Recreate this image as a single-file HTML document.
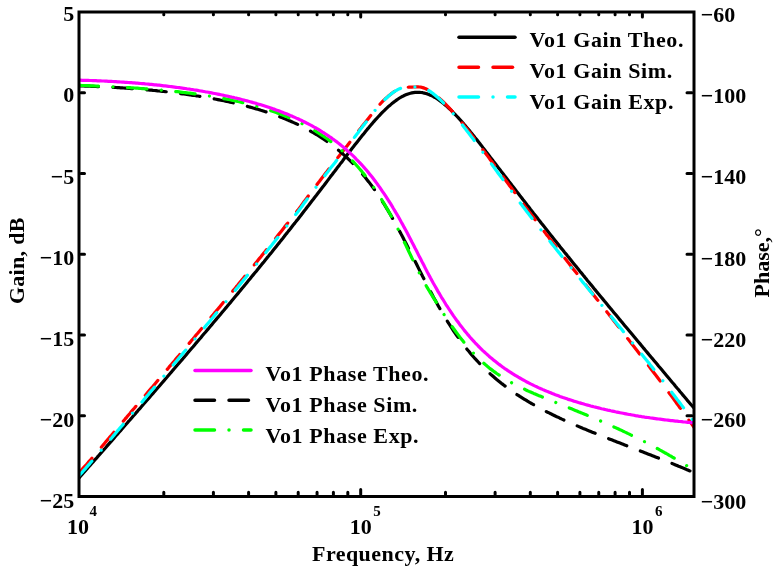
<!DOCTYPE html><html><head><meta charset="utf-8"><style>html,body{margin:0;padding:0;background:#fff;overflow:hidden}svg{display:block;will-change:transform}</style></head><body><svg width="776" height="570" viewBox="0 0 776 570">
<rect width="776" height="570" fill="#fff"/>
<defs><clipPath id="c"><rect x="79" y="12" width="615" height="484.5"/></clipPath></defs>
<g clip-path="url(#c)" fill="none" stroke-width="3.20" stroke-linejoin="round">
<path d="M79.0,477.9 L80.5,476.2 L82.1,474.4 L83.6,472.7 L85.2,470.9 L86.7,469.2 L88.2,467.4 L89.8,465.7 L91.3,463.9 L92.9,462.2 L94.4,460.4 L96.0,458.7 L97.5,456.9 L99.0,455.2 L100.6,453.4 L102.1,451.7 L103.7,449.9 L105.2,448.2 L106.7,446.4 L108.3,444.6 L109.8,442.9 L111.4,441.1 L112.9,439.4 L114.5,437.6 L116.0,435.8 L117.5,434.1 L119.1,432.3 L120.6,430.6 L122.2,428.8 L123.7,427.0 L125.2,425.3 L126.8,423.5 L128.3,421.7 L129.9,420.0 L131.4,418.2 L132.9,416.4 L134.5,414.7 L136.0,412.9 L137.6,411.1 L139.1,409.3 L140.7,407.6 L142.2,405.8 L143.7,404.0 L145.3,402.2 L146.8,400.5 L148.4,398.7 L149.9,396.9 L151.4,395.1 L153.0,393.4 L154.5,391.6 L156.1,389.8 L157.6,388.0 L159.2,386.2 L160.7,384.4 L162.2,382.7 L163.8,380.9 L165.3,379.1 L166.9,377.3 L168.4,375.5 L169.9,373.7 L171.5,371.9 L173.0,370.1 L174.6,368.3 L176.1,366.5 L177.6,364.7 L179.2,362.9 L180.7,361.2 L182.3,359.4 L183.8,357.6 L185.4,355.8 L186.9,353.9 L188.4,352.1 L190.0,350.3 L191.5,348.5 L193.1,346.7 L194.6,344.9 L196.1,343.1 L197.7,341.3 L199.2,339.5 L200.8,337.7 L202.3,335.8 L203.8,334.0 L205.4,332.2 L206.9,330.4 L208.5,328.6 L210.0,326.7 L211.6,324.9 L213.1,323.1 L214.6,321.3 L216.2,319.4 L217.7,317.6 L219.3,315.8 L220.8,313.9 L222.3,312.1 L223.9,310.3 L225.4,308.4 L227.0,306.6 L228.5,304.7 L230.1,302.9 L231.6,301.0 L233.1,299.2 L234.7,297.3 L236.2,295.5 L237.8,293.6 L239.3,291.8 L240.8,289.9 L242.4,288.0 L243.9,286.2 L245.5,284.3 L247.0,282.4 L248.5,280.6 L250.1,278.7 L251.6,276.8 L253.2,274.9 L254.7,273.1 L256.3,271.2 L257.8,269.3 L259.3,267.4 L260.9,265.5 L262.4,263.6 L264.0,261.7 L265.5,259.8 L267.0,257.9 L268.6,256.0 L270.1,254.1 L271.7,252.2 L273.2,250.3 L274.8,248.3 L276.3,246.4 L277.8,244.5 L279.4,242.6 L280.9,240.6 L282.5,238.7 L284.0,236.8 L285.5,234.8 L287.1,232.9 L288.6,230.9 L290.2,229.0 L291.7,227.0 L293.2,225.0 L294.8,223.1 L296.3,221.1 L297.9,219.2 L299.4,217.2 L301.0,215.2 L302.5,213.2 L304.0,211.2 L305.6,209.3 L307.1,207.3 L308.7,205.3 L310.2,203.3 L311.7,201.3 L313.3,199.3 L314.8,197.3 L316.4,195.3 L317.9,193.3 L319.5,191.2 L321.0,189.2 L322.5,187.2 L324.1,185.2 L325.6,183.2 L327.2,181.1 L328.7,179.1 L330.2,177.1 L331.8,175.1 L333.3,173.0 L334.9,171.0 L336.4,169.0 L337.9,166.9 L339.5,164.9 L341.0,162.9 L342.6,160.9 L344.1,158.8 L345.7,156.8 L347.2,154.8 L348.7,152.8 L350.3,150.8 L351.8,148.8 L353.4,146.8 L354.9,144.8 L356.4,142.9 L358.0,140.9 L359.5,139.0 L361.1,137.0 L362.6,135.1 L364.2,133.2 L365.7,131.3 L367.2,129.4 L368.8,127.6 L370.3,125.7 L371.9,123.9 L373.4,122.1 L374.9,120.4 L376.5,118.7 L378.0,117.0 L379.6,115.3 L381.1,113.7 L382.6,112.1 L384.2,110.6 L385.7,109.1 L387.3,107.6 L388.8,106.2 L390.4,104.9 L391.9,103.6 L393.4,102.4 L395.0,101.2 L396.5,100.1 L398.1,99.0 L399.6,98.0 L401.1,97.1 L402.7,96.3 L404.2,95.5 L405.8,94.8 L407.3,94.2 L408.8,93.7 L410.4,93.3 L411.9,92.9 L413.5,92.6 L415.0,92.4 L416.6,92.3 L418.1,92.3 L419.6,92.4 L421.2,92.5 L422.7,92.7 L424.3,93.1 L425.8,93.5 L427.3,93.9 L428.9,94.5 L430.4,95.2 L432.0,95.9 L433.5,96.7 L435.1,97.5 L436.6,98.5 L438.1,99.5 L439.7,100.6 L441.2,101.7 L442.8,102.9 L444.3,104.2 L445.8,105.5 L447.4,106.8 L448.9,108.3 L450.5,109.7 L452.0,111.2 L453.5,112.8 L455.1,114.4 L456.6,116.0 L458.2,117.7 L459.7,119.3 L461.3,121.1 L462.8,122.8 L464.3,124.6 L465.9,126.4 L467.4,128.2 L469.0,130.1 L470.5,132.0 L472.0,133.8 L473.6,135.7 L475.1,137.7 L476.7,139.6 L478.2,141.5 L479.8,143.5 L481.3,145.4 L482.8,147.4 L484.4,149.4 L485.9,151.4 L487.5,153.4 L489.0,155.4 L490.5,157.4 L492.1,159.4 L493.6,161.4 L495.2,163.4 L496.7,165.4 L498.2,167.4 L499.8,169.4 L501.3,171.4 L502.9,173.4 L504.4,175.5 L506.0,177.5 L507.5,179.5 L509.0,181.5 L510.6,183.5 L512.1,185.5 L513.7,187.5 L515.2,189.5 L516.7,191.5 L518.3,193.5 L519.8,195.5 L521.4,197.5 L522.9,199.5 L524.5,201.5 L526.0,203.5 L527.5,205.5 L529.1,207.4 L530.6,209.4 L532.2,211.4 L533.7,213.4 L535.2,215.3 L536.8,217.3 L538.3,219.3 L539.9,221.2 L541.4,223.2 L542.9,225.1 L544.5,227.1 L546.0,229.0 L547.6,231.0 L549.1,232.9 L550.7,234.9 L552.2,236.8 L553.7,238.7 L555.3,240.7 L556.8,242.6 L558.4,244.5 L559.9,246.5 L561.4,248.4 L563.0,250.3 L564.5,252.2 L566.1,254.1 L567.6,256.0 L569.2,257.9 L570.7,259.8 L572.2,261.7 L573.8,263.7 L575.3,265.5 L576.9,267.4 L578.4,269.3 L579.9,271.2 L581.5,273.1 L583.0,275.0 L584.6,276.9 L586.1,278.8 L587.6,280.7 L589.2,282.5 L590.7,284.4 L592.3,286.3 L593.8,288.2 L595.4,290.1 L596.9,291.9 L598.4,293.8 L600.0,295.7 L601.5,297.5 L603.1,299.4 L604.6,301.3 L606.1,303.1 L607.7,305.0 L609.2,306.9 L610.8,308.7 L612.3,310.6 L613.8,312.4 L615.4,314.3 L616.9,316.1 L618.5,318.0 L620.0,319.9 L621.6,321.7 L623.1,323.6 L624.6,325.4 L626.2,327.3 L627.7,329.1 L629.3,331.0 L630.8,332.8 L632.3,334.6 L633.9,336.5 L635.4,338.3 L637.0,340.2 L638.5,342.0 L640.1,343.9 L641.6,345.7 L643.1,347.6 L644.7,349.4 L646.2,351.2 L647.8,353.1 L649.3,354.9 L650.8,356.8 L652.4,358.6 L653.9,360.4 L655.5,362.3 L657.0,364.1 L658.5,366.0 L660.1,367.8 L661.6,369.6 L663.2,371.5 L664.7,373.3 L666.3,375.2 L667.8,377.0 L669.3,378.8 L670.9,380.7 L672.4,382.5 L674.0,384.3 L675.5,386.2 L677.0,388.0 L678.6,389.8 L680.1,391.7 L681.7,393.5 L683.2,395.4 L684.8,397.2 L686.3,399.0 L687.8,400.9 L689.4,402.7 L690.9,404.5 L692.5,406.3 L694.0,408.1" stroke="#000"/>
<path d="M79.0,472.8 L80.5,471.0 L82.1,469.3 L83.6,467.6 L85.2,465.9 L86.7,464.2 L88.2,462.4 L89.8,460.7 L91.3,458.9 L92.9,457.1 L94.4,455.3 L96.0,453.5 L97.5,451.6 L99.0,449.8 L100.6,448.0 L102.1,446.2 L103.7,444.4 L105.2,442.6 L106.7,440.7 L108.3,438.9 L109.8,437.1 L111.4,435.3 L112.9,433.5 L114.5,431.6 L116.0,429.8 L117.5,428.0 L119.1,426.2 L120.6,424.4 L122.2,422.6 L123.7,420.7 L125.2,418.9 L126.8,417.1 L128.3,415.3 L129.9,413.5 L131.4,411.6 L132.9,409.8 L134.5,408.0 L136.0,406.2 L137.6,404.4 L139.1,402.6 L140.7,400.7 L142.2,398.9 L143.7,397.1 L145.3,395.3 L146.8,393.5 L148.4,391.6 L149.9,389.8 L151.4,388.0 L153.0,386.2 L154.5,384.4 L156.1,382.5 L157.6,380.7 L159.2,378.9 L160.7,377.1 L162.2,375.3 L163.8,373.4 L165.3,371.6 L166.9,369.8 L168.4,368.0 L169.9,366.1 L171.5,364.3 L173.0,362.5 L174.6,360.7 L176.1,358.8 L177.6,357.0 L179.2,355.2 L180.7,353.3 L182.3,351.5 L183.8,349.7 L185.4,347.9 L186.9,346.0 L188.4,344.2 L190.0,342.4 L191.5,340.5 L193.1,338.7 L194.6,336.9 L196.1,335.0 L197.7,333.2 L199.2,331.4 L200.8,329.5 L202.3,327.7 L203.8,325.8 L205.4,324.0 L206.9,322.1 L208.5,320.3 L210.0,318.5 L211.6,316.6 L213.1,314.8 L214.6,312.9 L216.2,311.1 L217.7,309.2 L219.3,307.4 L220.8,305.5 L222.3,303.7 L223.9,301.8 L225.4,299.9 L227.0,298.1 L228.5,296.2 L230.1,294.4 L231.6,292.5 L233.1,290.6 L234.7,288.8 L236.2,286.9 L237.8,285.0 L239.3,283.1 L240.8,281.3 L242.4,279.4 L243.9,277.5 L245.5,275.6 L247.0,273.7 L248.5,271.9 L250.1,270.0 L251.6,268.1 L253.2,266.2 L254.7,264.3 L256.3,262.4 L257.8,260.5 L259.3,258.6 L260.9,256.7 L262.4,254.8 L264.0,252.9 L265.5,251.0 L267.0,249.0 L268.6,247.1 L270.1,245.2 L271.7,243.3 L273.2,241.4 L274.8,239.4 L276.3,237.5 L277.8,235.6 L279.4,233.6 L280.9,231.7 L282.5,229.7 L284.0,227.8 L285.5,225.8 L287.1,223.9 L288.6,221.9 L290.2,219.9 L291.7,218.0 L293.2,216.0 L294.8,214.0 L296.3,212.1 L297.9,210.1 L299.4,208.1 L301.0,206.0 L302.5,203.9 L304.0,201.7 L305.6,199.6 L307.1,197.6 L308.7,195.5 L310.2,193.4 L311.7,191.4 L313.3,189.3 L314.8,187.3 L316.4,185.3 L317.9,183.2 L319.5,181.2 L321.0,179.2 L322.5,177.2 L324.1,175.3 L325.6,173.3 L327.2,171.3 L328.7,169.3 L330.2,167.3 L331.8,165.4 L333.3,163.4 L334.9,161.4 L336.4,159.5 L337.9,157.5 L339.5,155.5 L341.0,153.6 L342.6,151.6 L344.1,149.6 L345.7,147.6 L347.2,145.7 L348.7,143.7 L350.3,141.7 L351.8,139.7 L353.4,137.7 L354.9,135.8 L356.4,133.8 L358.0,131.8 L359.5,129.8 L361.1,127.8 L362.6,125.8 L364.2,123.9 L365.7,121.9 L367.2,119.9 L368.8,117.9 L370.3,116.0 L371.9,114.0 L373.4,112.1 L374.9,110.2 L376.5,108.3 L378.0,106.5 L379.6,104.7 L381.1,103.0 L382.6,101.4 L384.2,99.9 L385.7,98.5 L387.3,97.1 L388.8,95.7 L390.4,94.5 L391.9,93.3 L393.4,92.2 L395.0,91.2 L396.5,90.3 L398.1,89.5 L399.6,88.8 L401.1,88.2 L402.7,87.8 L404.2,87.6 L405.8,87.4 L407.3,87.3 L408.8,87.2 L410.4,87.2 L411.9,87.1 L413.5,87.0 L415.0,87.0 L416.6,86.9 L418.1,86.9 L419.6,87.0 L421.2,87.2 L422.7,87.6 L424.3,88.1 L425.8,88.8 L427.3,89.5 L428.9,90.4 L430.4,91.4 L432.0,92.5 L433.5,93.6 L435.1,94.8 L436.6,96.0 L438.1,97.3 L439.7,98.6 L441.2,100.0 L442.8,101.5 L444.3,103.0 L445.8,104.5 L447.4,106.1 L448.9,107.7 L450.5,109.4 L452.0,111.1 L453.5,112.8 L455.1,114.6 L456.6,116.4 L458.2,118.2 L459.7,120.1 L461.3,121.9 L462.8,123.8 L464.3,125.7 L465.9,127.7 L467.4,129.6 L469.0,131.6 L470.5,133.5 L472.0,135.5 L473.6,137.5 L475.1,139.5 L476.7,141.5 L478.2,143.6 L479.8,145.6 L481.3,147.6 L482.8,149.7 L484.4,151.7 L485.9,153.8 L487.5,155.9 L489.0,157.9 L490.5,160.0 L492.1,162.0 L493.6,164.1 L495.2,166.2 L496.7,168.3 L498.2,170.3 L499.8,172.4 L501.3,174.5 L502.9,176.6 L504.4,178.6 L506.0,180.7 L507.5,182.8 L509.0,184.9 L510.6,186.9 L512.1,189.0 L513.7,191.1 L515.2,193.2 L516.7,195.3 L518.3,197.3 L519.8,199.4 L521.4,201.5 L522.9,203.5 L524.5,205.6 L526.0,207.6 L527.5,209.6 L529.1,211.7 L530.6,213.7 L532.2,215.7 L533.7,217.8 L535.2,219.8 L536.8,221.8 L538.3,223.8 L539.9,225.9 L541.4,227.9 L542.9,229.9 L544.5,231.9 L546.0,233.9 L547.6,235.9 L549.1,237.9 L550.7,239.9 L552.2,241.9 L553.7,243.9 L555.3,245.9 L556.8,247.9 L558.4,249.9 L559.9,251.9 L561.4,253.8 L563.0,255.8 L564.5,257.8 L566.1,259.8 L567.6,261.8 L569.2,263.7 L570.7,265.7 L572.2,267.7 L573.8,269.7 L575.3,271.6 L576.9,273.6 L578.4,275.6 L579.9,277.5 L581.5,279.5 L583.0,281.5 L584.6,283.4 L586.1,285.4 L587.6,287.4 L589.2,289.3 L590.7,291.3 L592.3,293.3 L593.8,295.2 L595.4,297.2 L596.9,299.2 L598.4,301.1 L600.0,303.1 L601.5,305.0 L603.1,307.0 L604.6,309.0 L606.1,310.9 L607.7,312.9 L609.2,314.9 L610.8,316.8 L612.3,318.8 L613.8,320.8 L615.4,322.8 L616.9,324.7 L618.5,326.7 L620.0,328.7 L621.6,330.7 L623.1,332.6 L624.6,334.6 L626.2,336.6 L627.7,338.6 L629.3,340.6 L630.8,342.6 L632.3,344.6 L633.9,346.6 L635.4,348.5 L637.0,350.5 L638.5,352.5 L640.1,354.6 L641.6,356.6 L643.1,358.6 L644.7,360.6 L646.2,362.6 L647.8,364.6 L649.3,366.6 L650.8,368.7 L652.4,370.7 L653.9,372.7 L655.5,374.8 L657.0,376.8 L658.5,378.8 L660.1,380.9 L661.6,383.0 L663.2,385.0 L664.7,387.1 L666.3,389.1 L667.8,391.2 L669.3,393.3 L670.9,395.4 L672.4,397.4 L674.0,399.5 L675.5,401.6 L677.0,403.7 L678.6,405.8 L680.1,408.0 L681.7,410.1 L683.2,412.2 L684.8,414.3 L686.3,416.5 L687.8,418.6 L689.4,420.8 L690.9,422.9 L692.5,425.1 L694.0,427.2" stroke="#f00" stroke-dasharray="19.5 14.5" stroke-linecap="round"/>
<path d="M79.0,475.9 L80.5,474.1 L82.1,472.4 L83.6,470.6 L85.2,468.9 L86.7,467.1 L88.2,465.4 L89.8,463.6 L91.3,461.8 L92.9,460.0 L94.4,458.2 L96.0,456.4 L97.5,454.5 L99.0,452.7 L100.6,450.9 L102.1,449.1 L103.7,447.3 L105.2,445.5 L106.7,443.6 L108.3,441.8 L109.8,440.0 L111.4,438.2 L112.9,436.4 L114.5,434.6 L116.0,432.7 L117.5,430.9 L119.1,429.1 L120.6,427.3 L122.2,425.5 L123.7,423.6 L125.2,421.8 L126.8,420.0 L128.3,418.2 L129.9,416.4 L131.4,414.5 L132.9,412.7 L134.5,410.9 L136.0,409.1 L137.6,407.2 L139.1,405.4 L140.7,403.6 L142.2,401.8 L143.7,399.9 L145.3,398.1 L146.8,396.3 L148.4,394.5 L149.9,392.6 L151.4,390.8 L153.0,389.0 L154.5,387.2 L156.1,385.3 L157.6,383.5 L159.2,381.7 L160.7,379.8 L162.2,378.0 L163.8,376.2 L165.3,374.3 L166.9,372.5 L168.4,370.7 L169.9,368.8 L171.5,367.0 L173.0,365.2 L174.6,363.3 L176.1,361.5 L177.6,359.7 L179.2,357.8 L180.7,356.0 L182.3,354.1 L183.8,352.3 L185.4,350.5 L186.9,348.6 L188.4,346.8 L190.0,344.9 L191.5,343.1 L193.1,341.2 L194.6,339.4 L196.1,337.5 L197.7,335.7 L199.2,333.9 L200.8,332.0 L202.3,330.1 L203.8,328.3 L205.4,326.4 L206.9,324.6 L208.5,322.7 L210.0,320.9 L211.6,319.0 L213.1,317.2 L214.6,315.3 L216.2,313.4 L217.7,311.6 L219.3,309.7 L220.8,307.8 L222.3,306.0 L223.9,304.1 L225.4,302.2 L227.0,300.4 L228.5,298.5 L230.1,296.6 L231.6,294.7 L233.1,292.8 L234.7,291.0 L236.2,289.1 L237.8,287.2 L239.3,285.3 L240.8,283.4 L242.4,281.5 L243.9,279.6 L245.5,277.7 L247.0,275.8 L248.5,273.9 L250.1,272.0 L251.6,270.1 L253.2,268.2 L254.7,266.3 L256.3,264.4 L257.8,262.5 L259.3,260.6 L260.9,258.7 L262.4,256.7 L264.0,254.8 L265.5,252.9 L267.0,251.0 L268.6,249.0 L270.1,247.1 L271.7,245.2 L273.2,243.2 L274.8,241.3 L276.3,239.3 L277.8,237.4 L279.4,235.4 L280.9,233.5 L282.5,231.5 L284.0,229.5 L285.5,227.6 L287.1,225.6 L288.6,223.6 L290.2,221.7 L291.7,219.7 L293.2,217.7 L294.8,215.7 L296.3,213.7 L297.9,211.7 L299.4,209.7 L301.0,207.6 L302.5,205.5 L304.0,203.3 L305.6,201.2 L307.1,199.1 L308.7,197.0 L310.2,194.9 L311.7,192.9 L313.3,190.8 L314.8,188.8 L316.4,186.7 L317.9,184.7 L319.5,182.7 L321.0,180.6 L322.5,178.6 L324.1,176.6 L325.6,174.6 L327.2,172.6 L328.7,170.6 L330.2,168.6 L331.8,166.6 L333.3,164.7 L334.9,162.7 L336.4,160.7 L337.9,158.7 L339.5,156.7 L341.0,154.7 L342.6,152.7 L344.1,150.7 L345.7,148.7 L347.2,146.7 L348.7,144.7 L350.3,142.7 L351.8,140.7 L353.4,138.7 L354.9,136.7 L356.4,134.7 L358.0,132.7 L359.5,130.6 L361.1,128.6 L362.6,126.6 L364.2,124.6 L365.7,122.6 L367.2,120.6 L368.8,118.6 L370.3,116.6 L371.9,114.6 L373.4,112.6 L374.9,110.6 L376.5,108.7 L378.0,106.9 L379.6,105.1 L381.1,103.4 L382.6,101.7 L384.2,100.2 L385.7,98.7 L387.3,97.3 L388.8,95.9 L390.4,94.6 L391.9,93.4 L393.4,92.3 L395.0,91.2 L396.5,90.3 L398.1,89.4 L399.6,88.7 L401.1,88.2 L402.7,87.8 L404.2,87.5 L405.8,87.3 L407.3,87.2 L408.8,87.1 L410.4,87.0 L411.9,87.0 L413.5,86.9 L415.0,86.9 L416.6,86.8 L418.1,86.9 L419.6,87.0 L421.2,87.2 L422.7,87.6 L424.3,88.2 L425.8,88.9 L427.3,89.7 L428.9,90.6 L430.4,91.6 L432.0,92.8 L433.5,93.9 L435.1,95.2 L436.6,96.5 L438.1,97.8 L439.7,99.2 L441.2,100.7 L442.8,102.2 L444.3,103.8 L445.8,105.4 L447.4,107.1 L448.9,108.7 L450.5,110.5 L452.0,112.3 L453.5,114.1 L455.1,115.9 L456.6,117.8 L458.2,119.7 L459.7,121.6 L461.3,123.5 L462.8,125.5 L464.3,127.5 L465.9,129.5 L467.4,131.5 L469.0,133.5 L470.5,135.5 L472.0,137.6 L473.6,139.6 L475.1,141.7 L476.7,143.8 L478.2,145.9 L479.8,148.0 L481.3,150.0 L482.8,152.1 L484.4,154.2 L485.9,156.3 L487.5,158.4 L489.0,160.5 L490.5,162.6 L492.1,164.8 L493.6,166.9 L495.2,169.0 L496.7,171.1 L498.2,173.2 L499.8,175.3 L501.3,177.4 L502.9,179.5 L504.4,181.6 L506.0,183.7 L507.5,185.7 L509.0,187.8 L510.6,189.9 L512.1,192.0 L513.7,194.1 L515.2,196.2 L516.7,198.2 L518.3,200.3 L519.8,202.4 L521.4,204.4 L522.9,206.5 L524.5,208.5 L526.0,210.5 L527.5,212.6 L529.1,214.6 L530.6,216.6 L532.2,218.6 L533.7,220.6 L535.2,222.6 L536.8,224.6 L538.3,226.5 L539.9,228.5 L541.4,230.5 L542.9,232.5 L544.5,234.4 L546.0,236.4 L547.6,238.4 L549.1,240.3 L550.7,242.2 L552.2,244.2 L553.7,246.1 L555.3,248.1 L556.8,250.0 L558.4,251.9 L559.9,253.8 L561.4,255.8 L563.0,257.7 L564.5,259.6 L566.1,261.5 L567.6,263.4 L569.2,265.3 L570.7,267.2 L572.2,269.1 L573.8,271.0 L575.3,272.9 L576.9,274.8 L578.4,276.7 L579.9,278.6 L581.5,280.5 L583.0,282.4 L584.6,284.3 L586.1,286.1 L587.6,288.0 L589.2,289.9 L590.7,291.8 L592.3,293.7 L593.8,295.5 L595.4,297.4 L596.9,299.3 L598.4,301.2 L600.0,303.0 L601.5,304.9 L603.1,306.8 L604.6,308.7 L606.1,310.5 L607.7,312.4 L609.2,314.3 L610.8,316.2 L612.3,318.0 L613.8,319.9 L615.4,321.8 L616.9,323.7 L618.5,325.6 L620.0,327.4 L621.6,329.3 L623.1,331.2 L624.6,333.1 L626.2,335.0 L627.7,336.9 L629.3,338.8 L630.8,340.7 L632.3,342.6 L633.9,344.5 L635.4,346.4 L637.0,348.3 L638.5,350.2 L640.1,352.1 L641.6,354.0 L643.1,355.9 L644.7,357.9 L646.2,359.8 L647.8,361.7 L649.3,363.6 L650.8,365.6 L652.4,367.5 L653.9,369.5 L655.5,371.4 L657.0,373.4 L658.5,375.3 L660.1,377.3 L661.6,379.3 L663.2,381.2 L664.7,383.2 L666.3,385.2 L667.8,387.2 L669.3,389.2 L670.9,391.2 L672.4,393.2 L674.0,395.2 L675.5,397.2 L677.0,399.3 L678.6,401.3 L680.1,403.3 L681.7,405.4 L683.2,407.4 L684.8,409.5 L686.3,411.6 L687.8,413.6 L689.4,415.7 L690.9,417.9 L692.5,420.0 L694.0,422.1" stroke="#0ff" stroke-dasharray="19.5 14.5 0.01 14.5" stroke-linecap="round"/>
<path d="M79.0,85.8 L80.5,85.9 L82.1,86.0 L83.6,86.0 L85.2,86.1 L86.7,86.1 L88.2,86.2 L89.8,86.2 L91.3,86.3 L92.9,86.4 L94.4,86.4 L96.0,86.5 L97.5,86.6 L99.0,86.6 L100.6,86.7 L102.1,86.8 L103.7,86.8 L105.2,86.9 L106.7,87.0 L108.3,87.1 L109.8,87.2 L111.4,87.2 L112.9,87.3 L114.5,87.4 L116.0,87.5 L117.5,87.6 L119.1,87.7 L120.6,87.8 L122.2,87.9 L123.7,88.0 L125.2,88.1 L126.8,88.2 L128.3,88.3 L129.9,88.4 L131.4,88.6 L132.9,88.7 L134.5,88.8 L136.0,88.9 L137.6,89.0 L139.1,89.2 L140.7,89.3 L142.2,89.4 L143.7,89.5 L145.3,89.7 L146.8,89.8 L148.4,90.0 L149.9,90.1 L151.4,90.2 L153.0,90.4 L154.5,90.5 L156.1,90.7 L157.6,90.9 L159.2,91.0 L160.7,91.2 L162.2,91.3 L163.8,91.5 L165.3,91.7 L166.9,91.8 L168.4,92.0 L169.9,92.2 L171.5,92.4 L173.0,92.6 L174.6,92.8 L176.1,93.0 L177.6,93.2 L179.2,93.4 L180.7,93.6 L182.3,93.8 L183.8,94.0 L185.4,94.2 L186.9,94.4 L188.4,94.6 L190.0,94.8 L191.5,95.1 L193.1,95.3 L194.6,95.5 L196.1,95.8 L197.7,96.0 L199.2,96.3 L200.8,96.5 L202.3,96.8 L203.8,97.0 L205.4,97.3 L206.9,97.6 L208.5,97.8 L210.0,98.1 L211.6,98.4 L213.1,98.7 L214.6,99.0 L216.2,99.3 L217.7,99.6 L219.3,99.9 L220.8,100.2 L222.3,100.5 L223.9,100.8 L225.4,101.1 L227.0,101.5 L228.5,101.8 L230.1,102.1 L231.6,102.5 L233.1,102.8 L234.7,103.2 L236.2,103.5 L237.8,103.9 L239.3,104.3 L240.8,104.7 L242.4,105.1 L243.9,105.5 L245.5,105.9 L247.0,106.3 L248.5,106.7 L250.1,107.1 L251.6,107.5 L253.2,108.0 L254.7,108.4 L256.3,108.9 L257.8,109.3 L259.3,109.8 L260.9,110.3 L262.4,110.7 L264.0,111.2 L265.5,111.7 L267.0,112.2 L268.6,112.7 L270.1,113.3 L271.7,113.8 L273.2,114.3 L274.8,114.9 L276.3,115.5 L277.8,116.0 L279.4,116.6 L280.9,117.2 L282.5,117.8 L284.0,118.4 L285.5,119.1 L287.1,119.7 L288.6,120.4 L290.2,121.0 L291.7,121.7 L293.2,122.4 L294.8,123.1 L296.3,123.8 L297.9,124.5 L299.4,125.3 L301.0,126.0 L302.5,126.8 L304.0,127.6 L305.6,128.4 L307.1,129.2 L308.7,130.1 L310.2,130.9 L311.7,131.8 L313.3,132.7 L314.8,133.6 L316.4,134.5 L317.9,135.4 L319.5,136.4 L321.0,137.4 L322.5,138.4 L324.1,139.4 L325.6,140.5 L327.2,141.6 L328.7,142.6 L330.2,143.8 L331.8,144.9 L333.3,146.1 L334.9,147.3 L336.4,148.5 L337.9,149.8 L339.5,151.0 L341.0,152.3 L342.6,153.7 L344.1,155.1 L345.7,156.5 L347.2,157.9 L348.7,159.4 L350.3,160.9 L351.8,162.4 L353.4,164.0 L354.9,165.6 L356.4,167.2 L358.0,168.9 L359.5,170.6 L361.1,172.4 L362.6,174.2 L364.2,176.1 L365.7,178.0 L367.2,179.9 L368.8,181.9 L370.3,183.9 L371.9,186.0 L373.4,188.1 L374.9,190.3 L376.5,192.5 L378.0,194.7 L379.6,197.0 L381.1,199.4 L382.6,201.8 L384.2,204.2 L385.7,206.7 L387.3,209.3 L388.8,211.9 L390.4,214.5 L391.9,217.2 L393.4,219.9 L395.0,222.7 L396.5,225.5 L398.1,228.3 L399.6,231.2 L401.1,234.1 L402.7,237.0 L404.2,240.0 L405.8,242.9 L407.3,246.0 L408.8,249.0 L410.4,252.0 L411.9,255.1 L413.5,258.1 L415.0,261.2 L416.6,264.3 L418.1,267.4 L419.6,270.4 L421.2,273.5 L422.7,276.5 L424.3,279.5 L425.8,282.6 L427.3,285.5 L428.9,288.5 L430.4,291.4 L432.0,294.3 L433.5,297.2 L435.1,300.0 L436.6,302.8 L438.1,305.6 L439.7,308.3 L441.2,311.0 L442.8,313.6 L444.3,316.2 L445.8,318.8 L447.4,321.3 L448.9,323.7 L450.5,326.1 L452.0,328.5 L453.5,330.8 L455.1,333.1 L456.6,335.3 L458.2,337.5 L459.7,339.6 L461.3,341.7 L462.8,343.8 L464.3,345.8 L465.9,347.7 L467.4,349.7 L469.0,351.5 L470.5,353.4 L472.0,355.2 L473.6,357.0 L475.1,358.7 L476.7,360.4 L478.2,362.0 L479.8,363.7 L481.3,365.2 L482.8,366.8 L484.4,368.3 L485.9,369.8 L487.5,371.3 L489.0,372.7 L490.5,374.1 L492.1,375.5 L493.6,376.8 L495.2,378.2 L496.7,379.5 L498.2,380.7 L499.8,382.0 L501.3,383.2 L502.9,384.4 L504.4,385.6 L506.0,386.8 L507.5,387.9 L509.0,389.0 L510.6,390.1 L512.1,391.2 L513.7,392.3 L515.2,393.3 L516.7,394.4 L518.3,395.4 L519.8,396.4 L521.4,397.4 L522.9,398.3 L524.5,399.3 L526.0,400.2 L527.5,401.2 L529.1,402.1 L530.6,403.0 L532.2,403.9 L533.7,404.7 L535.2,405.6 L536.8,406.5 L538.3,407.3 L539.9,408.1 L541.4,409.0 L542.9,409.8 L544.5,410.6 L546.0,411.4 L547.6,412.2 L549.1,412.9 L550.7,413.7 L552.2,414.5 L553.7,415.2 L555.3,416.0 L556.8,416.7 L558.4,417.4 L559.9,418.2 L561.4,418.9 L563.0,419.6 L564.5,420.3 L566.1,421.0 L567.6,421.7 L569.2,422.4 L570.7,423.1 L572.2,423.7 L573.8,424.4 L575.3,425.1 L576.9,425.7 L578.4,426.4 L579.9,427.1 L581.5,427.7 L583.0,428.4 L584.6,429.0 L586.1,429.6 L587.6,430.3 L589.2,430.9 L590.7,431.5 L592.3,432.2 L593.8,432.8 L595.4,433.4 L596.9,434.0 L598.4,434.6 L600.0,435.3 L601.5,435.9 L603.1,436.5 L604.6,437.1 L606.1,437.7 L607.7,438.3 L609.2,438.9 L610.8,439.5 L612.3,440.1 L613.8,440.7 L615.4,441.3 L616.9,441.9 L618.5,442.5 L620.0,443.1 L621.6,443.7 L623.1,444.3 L624.6,444.9 L626.2,445.5 L627.7,446.1 L629.3,446.7 L630.8,447.3 L632.3,447.9 L633.9,448.5 L635.4,449.1 L637.0,449.7 L638.5,450.3 L640.1,450.9 L641.6,451.5 L643.1,452.1 L644.7,452.7 L646.2,453.3 L647.8,453.9 L649.3,454.5 L650.8,455.1 L652.4,455.7 L653.9,456.3 L655.5,456.9 L657.0,457.5 L658.5,458.1 L660.1,458.7 L661.6,459.3 L663.2,459.9 L664.7,460.5 L666.3,461.2 L667.8,461.8 L669.3,462.4 L670.9,463.0 L672.4,463.6 L674.0,464.3 L675.5,464.9 L677.0,465.5 L678.6,466.2 L680.1,466.8 L681.7,467.4 L683.2,468.1 L684.8,468.7 L686.3,469.4 L687.8,470.0 L689.4,470.7 L690.9,471.3 L692.5,472.0 L694.0,472.6" stroke="#000" stroke-dasharray="19.5 14.5" stroke-linecap="round"/>
<path d="M79.0,85.4 L80.5,85.4 L82.1,85.5 L83.6,85.5 L85.2,85.6 L86.7,85.7 L88.2,85.7 L89.8,85.8 L91.3,85.8 L92.9,85.9 L94.4,86.0 L96.0,86.0 L97.5,86.1 L99.0,86.2 L100.6,86.2 L102.1,86.3 L103.7,86.4 L105.2,86.4 L106.7,86.5 L108.3,86.6 L109.8,86.6 L111.4,86.7 L112.9,86.8 L114.5,86.9 L116.0,87.0 L117.5,87.0 L119.1,87.1 L120.6,87.2 L122.2,87.3 L123.7,87.4 L125.2,87.5 L126.8,87.6 L128.3,87.6 L129.9,87.7 L131.4,87.8 L132.9,87.9 L134.5,88.0 L136.0,88.1 L137.6,88.2 L139.1,88.3 L140.7,88.5 L142.2,88.6 L143.7,88.7 L145.3,88.8 L146.8,88.9 L148.4,89.0 L149.9,89.1 L151.4,89.3 L153.0,89.4 L154.5,89.5 L156.1,89.6 L157.6,89.8 L159.2,89.9 L160.7,90.1 L162.2,90.2 L163.8,90.3 L165.3,90.5 L166.9,90.6 L168.4,90.8 L169.9,90.9 L171.5,91.1 L173.0,91.2 L174.6,91.4 L176.1,91.6 L177.6,91.7 L179.2,91.9 L180.7,92.1 L182.3,92.3 L183.8,92.5 L185.4,92.6 L186.9,92.8 L188.4,93.0 L190.0,93.2 L191.5,93.4 L193.1,93.6 L194.6,93.8 L196.1,94.0 L197.7,94.3 L199.2,94.5 L200.8,94.7 L202.3,94.9 L203.8,95.2 L205.4,95.4 L206.9,95.6 L208.5,95.9 L210.0,96.1 L211.6,96.4 L213.1,96.6 L214.6,96.9 L216.2,97.2 L217.7,97.4 L219.3,97.7 L220.8,98.0 L222.3,98.3 L223.9,98.6 L225.4,98.9 L227.0,99.2 L228.5,99.5 L230.1,99.8 L231.6,100.1 L233.1,100.5 L234.7,100.8 L236.2,101.1 L237.8,101.5 L239.3,101.8 L240.8,102.2 L242.4,102.6 L243.9,102.9 L245.5,103.3 L247.0,103.7 L248.5,104.1 L250.1,104.5 L251.6,104.9 L253.2,105.3 L254.7,105.7 L256.3,106.2 L257.8,106.6 L259.3,107.1 L260.9,107.5 L262.4,108.0 L264.0,108.5 L265.5,108.9 L267.0,109.4 L268.6,109.9 L270.1,110.5 L271.7,111.0 L273.2,111.5 L274.8,112.0 L276.3,112.6 L277.8,113.2 L279.4,113.7 L280.9,114.3 L282.5,114.9 L284.0,115.5 L285.5,116.2 L287.1,116.8 L288.6,117.4 L290.2,118.1 L291.7,118.8 L293.2,119.4 L294.8,120.1 L296.3,120.9 L297.9,121.6 L299.4,122.3 L301.0,123.1 L302.5,123.9 L304.0,124.7 L305.6,125.5 L307.1,126.3 L308.7,127.1 L310.2,128.0 L311.7,128.9 L313.3,129.8 L314.8,130.7 L316.4,131.6 L317.9,132.6 L319.5,133.6 L321.0,134.6 L322.5,135.6 L324.1,136.6 L325.6,137.7 L327.2,138.8 L328.7,139.9 L330.2,141.1 L331.8,142.2 L333.3,143.4 L334.9,144.7 L336.4,145.9 L337.9,147.2 L339.5,148.5 L341.0,149.9 L342.6,151.2 L344.1,152.6 L345.7,154.1 L347.2,155.6 L348.7,157.1 L350.3,158.6 L351.8,160.2 L353.4,161.9 L354.9,163.5 L356.4,165.2 L358.0,167.0 L359.5,168.8 L361.1,170.6 L362.6,172.5 L364.2,174.4 L365.7,176.4 L367.2,178.4 L368.8,180.5 L370.3,182.6 L371.9,184.7 L373.4,186.9 L374.9,189.2 L376.5,191.5 L378.0,193.9 L379.6,196.3 L381.1,198.7 L382.6,201.2 L384.2,203.8 L385.7,206.4 L387.3,209.1 L388.8,211.8 L390.4,214.6 L391.9,217.4 L393.4,220.3 L395.0,223.2 L396.5,226.2 L398.1,229.3 L399.6,232.3 L401.1,235.5 L402.7,238.6 L404.2,241.9 L405.8,245.1 L407.3,248.3 L408.8,251.5 L410.4,254.8 L411.9,258.0 L413.5,261.2 L415.0,264.3 L416.6,267.4 L418.1,270.5 L419.6,273.6 L421.2,276.5 L422.7,279.4 L424.3,282.3 L425.8,285.0 L427.3,287.7 L428.9,290.3 L430.4,292.9 L432.0,295.4 L433.5,297.9 L435.1,300.4 L436.6,302.8 L438.1,305.3 L439.7,307.7 L441.2,310.1 L442.8,312.5 L444.3,314.9 L445.8,317.2 L447.4,319.5 L448.9,321.8 L450.5,324.1 L452.0,326.3 L453.5,328.5 L455.1,330.7 L456.6,332.8 L458.2,334.9 L459.7,336.9 L461.3,338.9 L462.8,340.8 L464.3,342.7 L465.9,344.6 L467.4,346.4 L469.0,348.2 L470.5,349.9 L472.0,351.6 L473.6,353.3 L475.1,354.9 L476.7,356.5 L478.2,358.0 L479.8,359.5 L481.3,361.0 L482.8,362.4 L484.4,363.8 L485.9,365.1 L487.5,366.4 L489.0,367.7 L490.5,368.9 L492.1,370.1 L493.6,371.2 L495.2,372.4 L496.7,373.5 L498.2,374.5 L499.8,375.6 L501.3,376.6 L502.9,377.6 L504.4,378.5 L506.0,379.5 L507.5,380.4 L509.0,381.3 L510.6,382.2 L512.1,383.0 L513.7,383.8 L515.2,384.7 L516.7,385.5 L518.3,386.2 L519.8,387.0 L521.4,387.8 L522.9,388.5 L524.5,389.2 L526.0,390.0 L527.5,390.7 L529.1,391.4 L530.6,392.0 L532.2,392.7 L533.7,393.4 L535.2,394.0 L536.8,394.7 L538.3,395.4 L539.9,396.0 L541.4,396.6 L542.9,397.3 L544.5,397.9 L546.0,398.5 L547.6,399.2 L549.1,399.8 L550.7,400.4 L552.2,401.1 L553.7,401.7 L555.3,402.3 L556.8,402.9 L558.4,403.5 L559.9,404.2 L561.4,404.8 L563.0,405.4 L564.5,406.0 L566.1,406.7 L567.6,407.3 L569.2,407.9 L570.7,408.5 L572.2,409.1 L573.8,409.8 L575.3,410.4 L576.9,411.0 L578.4,411.7 L579.9,412.3 L581.5,412.9 L583.0,413.6 L584.6,414.2 L586.1,414.8 L587.6,415.5 L589.2,416.1 L590.7,416.8 L592.3,417.4 L593.8,418.1 L595.4,418.7 L596.9,419.4 L598.4,420.1 L600.0,420.7 L601.5,421.4 L603.1,422.1 L604.6,422.7 L606.1,423.4 L607.7,424.1 L609.2,424.8 L610.8,425.5 L612.3,426.2 L613.8,426.9 L615.4,427.6 L616.9,428.3 L618.5,429.0 L620.0,429.7 L621.6,430.4 L623.1,431.2 L624.6,431.9 L626.2,432.6 L627.7,433.4 L629.3,434.1 L630.8,434.9 L632.3,435.6 L633.9,436.4 L635.4,437.1 L637.0,437.9 L638.5,438.7 L640.1,439.5 L641.6,440.2 L643.1,441.0 L644.7,441.8 L646.2,442.6 L647.8,443.4 L649.3,444.2 L650.8,445.1 L652.4,445.9 L653.9,446.7 L655.5,447.5 L657.0,448.4 L658.5,449.2 L660.1,450.1 L661.6,450.9 L663.2,451.8 L664.7,452.7 L666.3,453.5 L667.8,454.4 L669.3,455.3 L670.9,456.2 L672.4,457.1 L674.0,458.0 L675.5,458.9 L677.0,459.8 L678.6,460.7 L680.1,461.7 L681.7,462.6 L683.2,463.5 L684.8,464.5 L686.3,465.4 L687.8,466.4 L689.4,467.0 L690.9,467.7 L692.5,468.3 L694.0,469.0" stroke="#0f0" stroke-dasharray="19.5 14.5 0.01 14.5" stroke-linecap="round"/>
<path d="M79.0,80.2 L80.5,80.2 L82.1,80.3 L83.6,80.3 L85.2,80.4 L86.7,80.4 L88.2,80.4 L89.8,80.5 L91.3,80.5 L92.9,80.6 L94.4,80.6 L96.0,80.7 L97.5,80.8 L99.0,80.8 L100.6,80.9 L102.1,81.0 L103.7,81.0 L105.2,81.1 L106.7,81.2 L108.3,81.3 L109.8,81.3 L111.4,81.4 L112.9,81.5 L114.5,81.6 L116.0,81.7 L117.5,81.8 L119.1,81.9 L120.6,82.0 L122.2,82.1 L123.7,82.2 L125.2,82.3 L126.8,82.4 L128.3,82.5 L129.9,82.6 L131.4,82.7 L132.9,82.8 L134.5,82.9 L136.0,83.1 L137.6,83.2 L139.1,83.3 L140.7,83.5 L142.2,83.6 L143.7,83.7 L145.3,83.9 L146.8,84.0 L148.4,84.1 L149.9,84.3 L151.4,84.4 L153.0,84.6 L154.5,84.8 L156.1,84.9 L157.6,85.1 L159.2,85.2 L160.7,85.4 L162.2,85.6 L163.8,85.8 L165.3,85.9 L166.9,86.1 L168.4,86.3 L169.9,86.5 L171.5,86.7 L173.0,86.9 L174.6,87.1 L176.1,87.3 L177.6,87.5 L179.2,87.7 L180.7,87.9 L182.3,88.1 L183.8,88.3 L185.4,88.5 L186.9,88.8 L188.4,89.0 L190.0,89.2 L191.5,89.5 L193.1,89.7 L194.6,90.0 L196.1,90.2 L197.7,90.4 L199.2,90.7 L200.8,91.0 L202.3,91.2 L203.8,91.5 L205.4,91.8 L206.9,92.0 L208.5,92.3 L210.0,92.6 L211.6,92.9 L213.1,93.2 L214.6,93.5 L216.2,93.8 L217.7,94.1 L219.3,94.4 L220.8,94.7 L222.3,95.0 L223.9,95.4 L225.4,95.7 L227.0,96.0 L228.5,96.4 L230.1,96.7 L231.6,97.1 L233.1,97.4 L234.7,97.8 L236.2,98.1 L237.8,98.5 L239.3,98.9 L240.8,99.3 L242.4,99.7 L243.9,100.1 L245.5,100.5 L247.0,100.9 L248.5,101.3 L250.1,101.7 L251.6,102.1 L253.2,102.6 L254.7,103.0 L256.3,103.4 L257.8,103.9 L259.3,104.4 L260.9,104.8 L262.4,105.3 L264.0,105.8 L265.5,106.3 L267.0,106.8 L268.6,107.3 L270.1,107.8 L271.7,108.3 L273.2,108.9 L274.8,109.4 L276.3,110.0 L277.8,110.5 L279.4,111.1 L280.9,111.7 L282.5,112.3 L284.0,112.9 L285.5,113.5 L287.1,114.1 L288.6,114.7 L290.2,115.4 L291.7,116.0 L293.2,116.7 L294.8,117.4 L296.3,118.1 L297.9,118.8 L299.4,119.5 L301.0,120.2 L302.5,121.0 L304.0,121.7 L305.6,122.5 L307.1,123.3 L308.7,124.1 L310.2,124.9 L311.7,125.7 L313.3,126.6 L314.8,127.5 L316.4,128.3 L317.9,129.2 L319.5,130.2 L321.0,131.1 L322.5,132.1 L324.1,133.0 L325.6,134.0 L327.2,135.1 L328.7,136.1 L330.2,137.2 L331.8,138.2 L333.3,139.4 L334.9,140.5 L336.4,141.6 L337.9,142.8 L339.5,144.0 L341.0,145.3 L342.6,146.5 L344.1,147.8 L345.7,149.1 L347.2,150.5 L348.7,151.9 L350.3,153.3 L351.8,154.7 L353.4,156.2 L354.9,157.7 L356.4,159.3 L358.0,160.9 L359.5,162.5 L361.1,164.1 L362.6,165.8 L364.2,167.6 L365.7,169.3 L367.2,171.1 L368.8,173.0 L370.3,174.9 L371.9,176.8 L373.4,178.8 L374.9,180.8 L376.5,182.9 L378.0,185.0 L379.6,187.1 L381.1,189.3 L382.6,191.6 L384.2,193.9 L385.7,196.2 L387.3,198.6 L388.8,201.0 L390.4,203.4 L391.9,205.9 L393.4,208.5 L395.0,211.1 L396.5,213.7 L398.1,216.3 L399.6,219.0 L401.1,221.8 L402.7,224.6 L404.2,227.4 L405.8,230.2 L407.3,233.1 L408.8,236.0 L410.4,239.0 L411.9,242.0 L413.5,245.0 L415.0,248.0 L416.6,251.0 L418.1,254.1 L419.6,257.1 L421.2,260.1 L422.7,263.1 L424.3,266.1 L425.8,269.1 L427.3,272.0 L428.9,274.9 L430.4,277.8 L432.0,280.7 L433.5,283.5 L435.1,286.2 L436.6,288.9 L438.1,291.6 L439.7,294.2 L441.2,296.8 L442.8,299.3 L444.3,301.8 L445.8,304.3 L447.4,306.7 L448.9,309.0 L450.5,311.4 L452.0,313.7 L453.5,315.9 L455.1,318.1 L456.6,320.2 L458.2,322.3 L459.7,324.4 L461.3,326.4 L462.8,328.4 L464.3,330.4 L465.9,332.3 L467.4,334.1 L469.0,335.9 L470.5,337.7 L472.0,339.4 L473.6,341.1 L475.1,342.8 L476.7,344.4 L478.2,346.0 L479.8,347.6 L481.3,349.1 L482.8,350.6 L484.4,352.0 L485.9,353.4 L487.5,354.8 L489.0,356.2 L490.5,357.5 L492.1,358.8 L493.6,360.1 L495.2,361.3 L496.7,362.5 L498.2,363.7 L499.8,364.9 L501.3,366.0 L502.9,367.2 L504.4,368.3 L506.0,369.3 L507.5,370.4 L509.0,371.4 L510.6,372.4 L512.1,373.4 L513.7,374.4 L515.2,375.3 L516.7,376.2 L518.3,377.2 L519.8,378.0 L521.4,378.9 L522.9,379.8 L524.5,380.6 L526.0,381.5 L527.5,382.3 L529.1,383.1 L530.6,383.9 L532.2,384.6 L533.7,385.4 L535.2,386.1 L536.8,386.8 L538.3,387.6 L539.9,388.3 L541.4,388.9 L542.9,389.6 L544.5,390.3 L546.0,390.9 L547.6,391.6 L549.1,392.2 L550.7,392.8 L552.2,393.5 L553.7,394.1 L555.3,394.7 L556.8,395.2 L558.4,395.8 L559.9,396.4 L561.4,396.9 L563.0,397.5 L564.5,398.0 L566.1,398.5 L567.6,399.1 L569.2,399.6 L570.7,400.1 L572.2,400.6 L573.8,401.1 L575.3,401.5 L576.9,402.0 L578.4,402.5 L579.9,402.9 L581.5,403.4 L583.0,403.8 L584.6,404.3 L586.1,404.7 L587.6,405.1 L589.2,405.5 L590.7,406.0 L592.3,406.4 L593.8,406.8 L595.4,407.1 L596.9,407.5 L598.4,407.9 L600.0,408.3 L601.5,408.7 L603.1,409.0 L604.6,409.4 L606.1,409.7 L607.7,410.1 L609.2,410.4 L610.8,410.8 L612.3,411.1 L613.8,411.4 L615.4,411.8 L616.9,412.1 L618.5,412.4 L620.0,412.7 L621.6,413.0 L623.1,413.3 L624.6,413.6 L626.2,413.9 L627.7,414.2 L629.3,414.5 L630.8,414.7 L632.3,415.0 L633.9,415.3 L635.4,415.6 L637.0,415.8 L638.5,416.1 L640.1,416.3 L641.6,416.6 L643.1,416.8 L644.7,417.1 L646.2,417.3 L647.8,417.5 L649.3,417.7 L650.8,418.0 L652.4,418.2 L653.9,418.4 L655.5,418.6 L657.0,418.8 L658.5,419.0 L660.1,419.2 L661.6,419.4 L663.2,419.6 L664.7,419.8 L666.3,420.0 L667.8,420.2 L669.3,420.4 L670.9,420.6 L672.4,420.7 L674.0,420.9 L675.5,421.1 L677.0,421.2 L678.6,421.4 L680.1,421.5 L681.7,421.7 L683.2,421.9 L684.8,422.0 L686.3,422.1 L687.8,422.3 L689.4,422.4 L690.9,422.6 L692.5,422.7 L694.0,422.9" stroke="#f0f"/>
</g>
<g stroke="#000" stroke-width="3" fill="none">
<rect x="79.0" y="12.0" width="615.0" height="484.5"/>
<path stroke-linecap="round" d="M81.0,92.75H84.5M692.0,92.75H687"/>
<path stroke-linecap="round" d="M81.0,173.50H84.5M692.0,173.50H687"/>
<path stroke-linecap="round" d="M81.0,254.25H84.5M692.0,254.25H687"/>
<path stroke-linecap="round" d="M81.0,335.00H84.5M692.0,335.00H687"/>
<path stroke-linecap="round" d="M81.0,415.75H84.5M692.0,415.75H687"/>
<path stroke-linecap="round" d="M163.80,494.5V492.3M163.80,14.0V14.7"/>
<path stroke-linecap="round" d="M213.41,494.5V492.3M213.41,14.0V14.7"/>
<path stroke-linecap="round" d="M248.60,494.5V492.3M248.60,14.0V14.7"/>
<path stroke-linecap="round" d="M275.90,494.5V492.3M275.90,14.0V14.7"/>
<path stroke-linecap="round" d="M298.21,494.5V492.3M298.21,14.0V14.7"/>
<path stroke-linecap="round" d="M317.06,494.5V492.3M317.06,14.0V14.7"/>
<path stroke-linecap="round" d="M333.40,494.5V492.3M333.40,14.0V14.7"/>
<path stroke-linecap="round" d="M347.81,494.5V492.3M347.81,14.0V14.7"/>
<path stroke-linecap="round" d="M360.70,494.5V489.5M360.70,14.0V17"/>
<path stroke-linecap="round" d="M445.50,494.5V492.3M445.50,14.0V14.7"/>
<path stroke-linecap="round" d="M495.11,494.5V492.3M495.11,14.0V14.7"/>
<path stroke-linecap="round" d="M530.30,494.5V492.3M530.30,14.0V14.7"/>
<path stroke-linecap="round" d="M557.60,494.5V492.3M557.60,14.0V14.7"/>
<path stroke-linecap="round" d="M579.91,494.5V492.3M579.91,14.0V14.7"/>
<path stroke-linecap="round" d="M598.76,494.5V492.3M598.76,14.0V14.7"/>
<path stroke-linecap="round" d="M615.10,494.5V492.3M615.10,14.0V14.7"/>
<path stroke-linecap="round" d="M629.51,494.5V492.3M629.51,14.0V14.7"/>
<path stroke-linecap="round" d="M642.40,494.5V489.5M642.40,14.0V17"/>
</g>
<g font-family="Liberation Serif" font-weight="bold" font-size="22" fill="#000">
<text x="74.2" y="21.4" text-anchor="end" font-size="22">5</text>
<text x="74.2" y="102.4" text-anchor="end" font-size="22">0</text>
<text x="74.2" y="183.8" text-anchor="end" font-size="22">&#8722;5</text>
<text x="74.2" y="265.0" text-anchor="end" font-size="22">&#8722;10</text>
<text x="74.2" y="345.9" text-anchor="end" font-size="22">&#8722;15</text>
<text x="74.2" y="426.59999999999997" text-anchor="end" font-size="22">&#8722;20</text>
<text x="74.2" y="507.9" text-anchor="end" font-size="22">&#8722;25</text>
<text x="700.8" y="22.0" font-size="22">&#8722;60</text>
<text x="700.8" y="103.0" font-size="22">&#8722;100</text>
<text x="700.8" y="184.4" font-size="22">&#8722;140</text>
<text x="700.8" y="265.6" font-size="22">&#8722;180</text>
<text x="700.8" y="346.5" font-size="22">&#8722;220</text>
<text x="700.8" y="427.2" font-size="22">&#8722;260</text>
<text x="700.8" y="508.5" font-size="22">&#8722;300</text>
<text x="78.0" y="533.7" text-anchor="middle" font-size="22">10</text>
<text x="89.5" y="516.3" font-size="15">4</text>
<text x="360.7" y="533.7" text-anchor="middle" font-size="22">10</text>
<text x="373.2" y="516.3" font-size="15">5</text>
<text x="642.4" y="533.7" text-anchor="middle" font-size="22">10</text>
<text x="654.9" y="516.3" font-size="15">6</text>
<text x="312" y="560.9" letter-spacing="0.45">Frequency, Hz</text>
<text transform="translate(24.4,304.1) rotate(-90)" letter-spacing="0.3">Gain, dB</text>
<text transform="translate(768.6,297.5) rotate(-90)">Phase,&#176;</text>
<g letter-spacing="0.6">
<text x="529.5" y="47.0">Vo1 Gain Theo.</text>
<text x="529.5" y="77.8">Vo1 Gain Sim.</text>
<text x="529.5" y="109.4">Vo1 Gain Exp.</text>
<text x="265.5" y="380.5">Vo1 Phase Theo.</text>
<text x="265.5" y="411.7">Vo1 Phase Sim.</text>
<text x="265.5" y="443.2">Vo1 Phase Exp.</text>
</g>
</g>
<g fill="none" stroke-width="3.5" stroke-linecap="round">
<path d="M459,37.3H515" stroke="#000"/>
<path d="M459,67.2H515" stroke="#f00" stroke-dasharray="19.5 14.5"/>
<path d="M459,96.95H515" stroke="#0ff" stroke-dasharray="19.5 14.5 0.01 14.5"/>
<path d="M195,370.5H251" stroke="#f0f"/>
<path d="M195,400.3H251" stroke="#000" stroke-dasharray="19.5 14.5"/>
<path d="M195,429.9H251" stroke="#0f0" stroke-dasharray="19.5 14.5 0.01 14.5"/>
</g>
</svg></body></html>
